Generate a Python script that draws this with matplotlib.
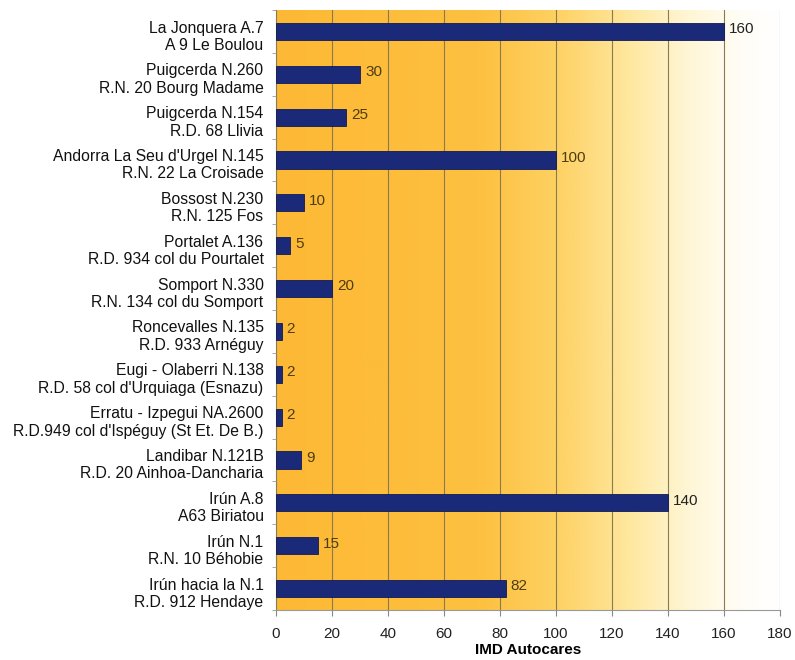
import numpy as np
import matplotlib
matplotlib.use("Agg")
import matplotlib.pyplot as plt
from matplotlib.colors import LinearSegmentedColormap

plt.rcParams['font.family'] = ['Liberation Sans', 'DejaVu Sans']

categories = [
    "La Jonquera A.7\nA 9 Le Boulou",
    "Puigcerda N.260\nR.N. 20 Bourg Madame",
    "Puigcerda N.154\nR.D. 68 Llivia",
    "Andorra La Seu d'Urgel N.145\nR.N. 22 La Croisade",
    "Bossost N.230\nR.N. 125 Fos",
    "Portalet A.136\nR.D. 934 col du Pourtalet",
    "Somport N.330\nR.N. 134 col du Somport",
    "Roncevalles N.135\nR.D. 933 Arnéguy",
    "Eugi - Olaberri N.138\nR.D. 58 col d'Urquiaga (Esnazu)",
    "Erratu - Izpegui NA.2600\nR.D.949 col d'Ispéguy (St Et. De B.)",
    "Landibar N.121B\nR.D. 20 Ainhoa-Dancharia",
    "Irún A.8\nA63 Biriatou",
    "Irún N.1\nR.N. 10 Béhobie",
    "Irún hacia la N.1\nR.D. 912 Hendaye",
]
values = [160, 30, 25, 100, 10, 5, 20, 2, 2, 2, 9, 140, 15, 82]
xticks = [0, 20, 40, 60, 80, 100, 120, 140, 160, 180]
xlabel = "IMD Autocares"

fig = plt.figure(figsize=(7.95, 6.6), dpi=100)
ax = fig.add_axes([276/795, 1-610/660, (780-276)/795, 600/660])

n = len(categories)
cmap = LinearSegmentedColormap.from_list(
    "bg", [(0.0, "#fdb935"), (0.4, "#fdc040"), (0.55, "#fed060"),
           (0.7, "#fee79e"), (0.82, "#fff6d6"), (0.92, "#fffdf5"), (1.0, "#ffffff")])
grad = np.linspace(0, 1, 256).reshape(1, -1)
ax.imshow(grad, cmap=cmap, aspect='auto', extent=[0, 180, n - 0.5, -0.5], zorder=0)

ypos = np.arange(n)
ax.barh(ypos, values, height=0.4, color="#1b2a78", edgecolor="#111a55", linewidth=0.6, zorder=3)
for y, v in zip(ypos, values):
    col = "#222222" if v >= 120 else "#4d3d12"
    ax.text(v + 1.8, y - 0.05, str(v), va='center', ha='left', fontsize=11, color=col, zorder=4)

ax.set_xlim(0, 180)
ax.set_ylim(n - 0.5, -0.5)
ax.set_xticks(xticks)
ax.set_xticklabels([str(t) for t in xticks], fontsize=11, color="#222222")
ax.set_yticks(ypos + 0.06)
ax.set_yticklabels(categories, fontsize=11.3, color="#111111", linespacing=1.2)
ax.set_yticks(np.arange(-0.5, n, 1), minor=True)
ax.tick_params(axis='y', which='major', length=0, pad=9)
ax.tick_params(axis='y', which='minor', length=3, color="#999999")
ax.tick_params(axis='x', length=4, color="#888888", pad=8)
ax.grid(axis='x', color="#8a7a50", linewidth=0.8, zorder=1)
ax.set_axisbelow(False)
for s in ['top', 'right']:
    ax.spines[s].set_visible(False)
for s in ['left', 'bottom']:
    ax.spines[s].set_color("#999999")
ax.set_xlabel(xlabel, fontsize=11, fontweight='bold', labelpad=2)

fig.savefig("out.png", dpi=100)
